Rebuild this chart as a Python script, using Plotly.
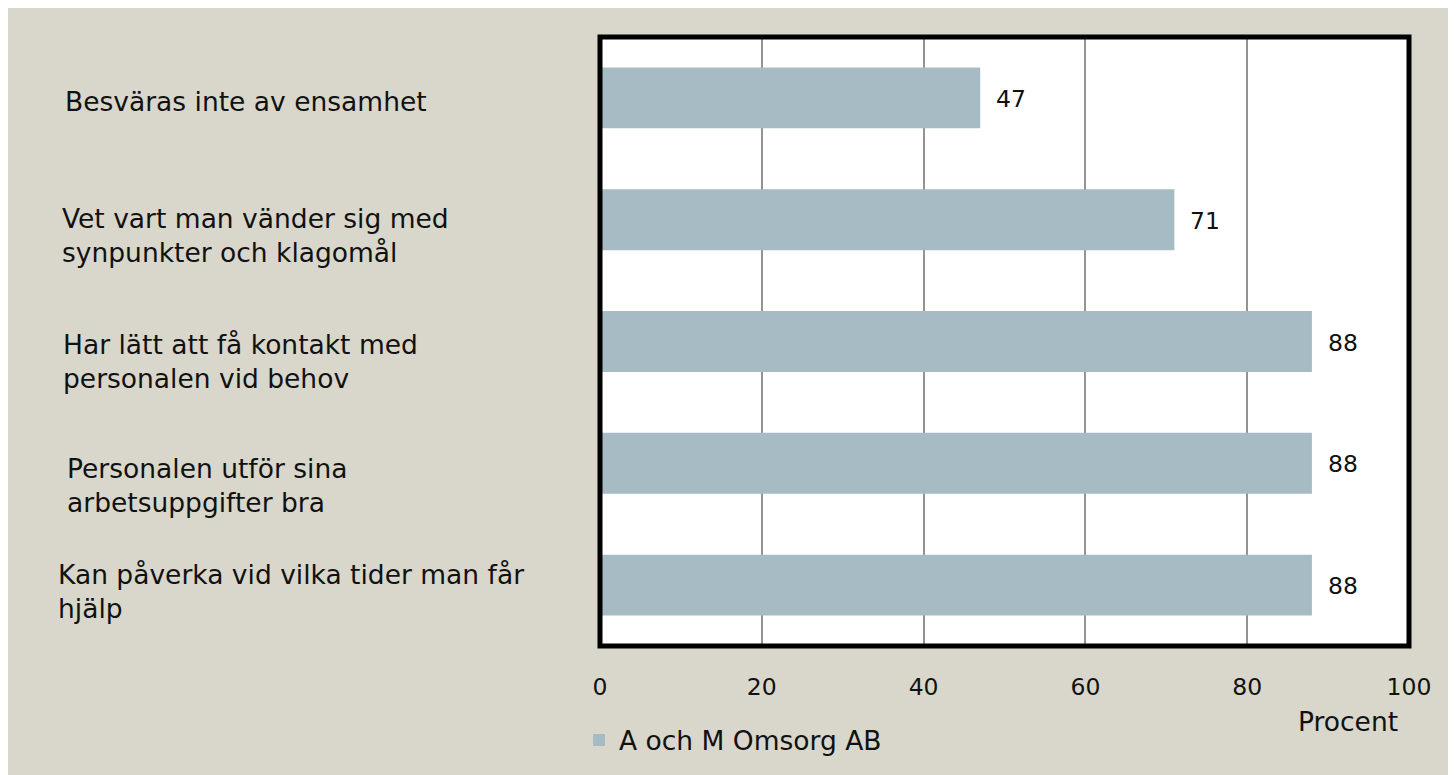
import plotly.graph_objects as go

# ---- data ----
categories = [
    "Besväras inte av ensamhet",
    "Vet vart man vänder sig med<br>synpunkter och klagomål",
    "Har lätt att få kontakt med<br>personalen vid behov",
    "Personalen utför sina<br>arbetsuppgifter bra",
    "Kan påverka vid vilka tider man får<br>hjälp",
]
values = [47, 71, 88, 88, 88]
series_name = "A och M Omsorg AB"
x_tick_vals = [0, 20, 40, 60, 80, 100]
x_axis_title = "Procent"

# ---- layout geometry (pixels, page coordinates incl. 8px body margin) ----
OFF = 8
W, H = 1456, 775
L, R, T, B = 600 - OFF, 1409 - OFF, 36.5 - OFF, 646.5 - OFF
PW, PH = R - L, B - T


def fx(px):
    return (px - OFF - L) / PW


def fy(py):
    return (B - (py - OFF)) / PH


FONT = "DejaVu Sans"
BEIGE = "#d9d7cb"
BAR = "#a7bbc5"

label_left_px = [63, 60, 61, 65, 56]
label_yshift = [-4, -16, -20, -22, -6]

fig = go.Figure()
fig.add_trace(go.Bar(
    x=values, y=categories, orientation="h",
    marker=dict(color=BAR, line=dict(width=0)),
    name=series_name, showlegend=True, hoverinfo="x+y",
))

annotations = []
for i, c in enumerate(categories):
    annotations.append(dict(
        xref="paper", x=fx(label_left_px[i]), xanchor="left",
        yref="y", y=c, yanchor="middle", yshift=label_yshift[i],
        text=c, showarrow=False, align="left",
        font=dict(family=FONT, size=26.5, color="#111111"),
    ))
for c, v in zip(categories, values):
    annotations.append(dict(
        xref="x", x=v, xanchor="left", xshift=14,
        yref="y", y=c, yanchor="middle", yshift=-1,
        text=str(v), showarrow=False,
        font=dict(family=FONT, size=23.5, color="#111111"),
    ))
annotations.append(dict(
    xref="paper", x=fx(1347.5), xanchor="center",
    yref="paper", y=fy(722), yanchor="middle",
    text=x_axis_title, showarrow=False,
    font=dict(family=FONT, size=26.5, color="#111111"),
))

shapes = [
    dict(type="rect", xref="paper", yref="paper", x0=0, x1=1, y0=0, y1=1,
         line=dict(color="black", width=5), layer="above"),
]

fig.update_layout(
    width=W, height=H,
    margin=dict(l=L, r=W - R, t=T, b=H - B, pad=0, autoexpand=False),
    paper_bgcolor=BEIGE, plot_bgcolor="white",
    bargap=0.5,
    font=dict(family=FONT, color="#111111"),
    xaxis=dict(
        range=[0, 100], tickvals=x_tick_vals, ticks="",
        showgrid=True, gridcolor="#939393", gridwidth=1.5,
        zeroline=False, showline=False,
        tickfont=dict(family=FONT, size=23.5, color="#111111"),
        ticklabelstandoff=24, fixedrange=True,
    ),
    yaxis=dict(
        range=[4.5, -0.5], showticklabels=False, ticks="",
        showgrid=False, zeroline=False, showline=False, fixedrange=True,
    ),
    showlegend=True,
    legend=dict(
        orientation="h", x=fx(579), xanchor="left", y=fy(741), yanchor="middle",
        bgcolor="rgba(0,0,0,0)", font=dict(family=FONT, size=26.5, color="#111111"),
    ),
    annotations=annotations, shapes=shapes,
)

fig.write_html(
    "out.html",
    config={"displayModeBar": False},
    post_script="document.documentElement.style.overflow='hidden';document.body.style.overflow='hidden';",
)
